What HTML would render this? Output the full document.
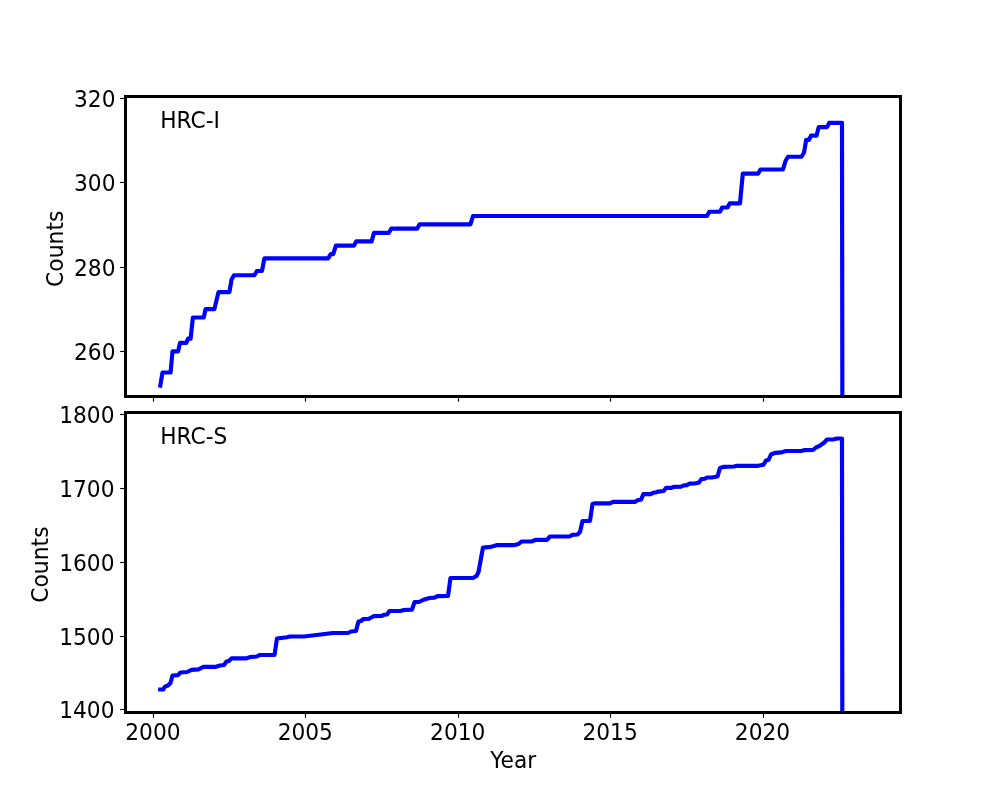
<!DOCTYPE html>
<html lang="en"><head><meta charset="utf-8"><title>HRC Counts</title>
<style>html,body{margin:0;padding:0;background:#fff;overflow:hidden}svg{display:block}text{font-family:"DejaVu Sans","Liberation Sans",sans-serif;font-size:22.22px;fill:#000}</style></head><body>
<svg width="1000" height="800" viewBox="0 0 1000 800">
<rect width="1000" height="800" fill="#fff"/>
<defs><clipPath id="c1"><rect x="125.5" y="96.5" width="775.0" height="300.0"/></clipPath><clipPath id="c2"><rect x="125.5" y="412.5" width="775.0" height="300.0"/></clipPath></defs>
<polyline clip-path="url(#c1)" points="160.3,385.49 162.5,372.5 170.6,372.5 172.5,351.35 178.1,351.35 180,342.89 186.25,342.89 188.1,338.66 190.6,338.66 192.9,317.51 203.75,317.51 205.6,309.05 214.4,309.05 218.5,292.13 229.4,292.13 231.6,279.44 234,275.21 254.4,275.21 256.9,270.98 262,270.98 264.4,258.29 328.1,258.29 330.8,254.06 333.2,254.06 335.9,245.6 354,245.6 356.2,241.37 371.6,241.37 374,232.91 388.8,232.91 391.2,228.68 417.1,228.68 419.5,224.45 470.4,224.45 473.1,215.99 707,215.99 709.3,211.76 720,211.76 722.2,207.53 727.5,207.53 729.8,203.3 740,203.3 742.8,173.69 758,173.69 760.5,169.46 783,169.46 785.5,161 788,156.77 801.5,156.77 804,152.54 806.2,139.85 809,139.85 811,135.62 816.5,135.62 818.7,127.16 827,127.16 829.2,122.93 842,122.93 842.35,402" fill="none" stroke="#0000ff" stroke-width="4.17" stroke-linejoin="round" stroke-linecap="square"/>
<polyline clip-path="url(#c2)" points="160.2,689.5 163.1,689.5 165,686.6 168,685.5 170.5,683 172.5,675.5 178,675.2 180.5,672.5 187,672 191.5,669.8 198.5,669.3 203.5,666.8 216,666.8 220,665.5 224,665 226.5,661.5 229,661 231.5,658.3 246.5,658.3 250.5,657 257,656.5 259.5,655 274.5,655 277,638.5 287,637.2 290,636.5 304,636.5 333,633 348,633 351,631.5 356,631 358.5,621.5 361,621 363.5,619 368.5,619 373.5,616.2 381.5,616 384,614.8 387,614.5 389.5,611 401,610.8 404,610 412,609.7 414.5,602.2 419,602 423,600 426,599 429.5,598 434.5,597.7 437.5,596.2 448,596 450.5,578 473.5,577.8 476.5,576 478.5,572 483,547.5 489,547.2 494,546 496.5,545.2 513.5,545.2 518.5,544 521.5,541.5 531.5,541.5 536,539.8 547,539.8 550,536.5 569.5,536.5 572.5,534.8 577.5,534.5 580,532 582.5,521 590,520.8 592.5,504 595,503.3 610,503.3 613,501.8 635.2,501.9 637.8,500.1 641,499.75 643.4,494.2 650.75,494.2 653.2,492.75 656,492.4 658.1,491.55 663.7,491 666.1,487.85 671.4,487.85 673.5,486.8 681.2,486.6 684,485.4 686.8,485.25 689.25,483.65 694.5,483.5 698.7,482.8 701.5,479.1 704.5,478.8 707,477.5 712,477.5 717.5,476.5 720,468 724,466.8 734,466.5 737,465.8 758,465.8 763.5,464.8 766,460.5 768.5,460 771,454.5 775.5,452.8 781,452.4 786,451 801,451 804,450.2 813,450 816,447.5 819,446.2 824,442.8 827,439.5 834,439.3 837,438.5 842,438.5 842.3,718" fill="none" stroke="#0000ff" stroke-width="4.17" stroke-linejoin="round" stroke-linecap="square"/>
<g stroke="#000" stroke-width="1.11" fill="none">
<line x1="153.5" y1="396.5" x2="153.5" y2="401.7"/>
<line x1="153.5" y1="712.5" x2="153.5" y2="717.7"/>
<line x1="305.5" y1="396.5" x2="305.5" y2="401.7"/>
<line x1="305.5" y1="712.5" x2="305.5" y2="717.7"/>
<line x1="458.5" y1="396.5" x2="458.5" y2="401.7"/>
<line x1="458.5" y1="712.5" x2="458.5" y2="717.7"/>
<line x1="610.5" y1="396.5" x2="610.5" y2="401.7"/>
<line x1="610.5" y1="712.5" x2="610.5" y2="717.7"/>
<line x1="763.5" y1="396.5" x2="763.5" y2="401.7"/>
<line x1="763.5" y1="712.5" x2="763.5" y2="717.7"/>
<line x1="125.5" y1="98.5" x2="120.1" y2="98.5"/>
<line x1="125.5" y1="182.5" x2="120.1" y2="182.5"/>
<line x1="125.5" y1="267.5" x2="120.1" y2="267.5"/>
<line x1="125.5" y1="351.5" x2="120.1" y2="351.5"/>
<line x1="125.5" y1="414.5" x2="120.1" y2="414.5"/>
<line x1="125.5" y1="488.5" x2="120.1" y2="488.5"/>
<line x1="125.5" y1="562.5" x2="120.1" y2="562.5"/>
<line x1="125.5" y1="636.5" x2="120.1" y2="636.5"/>
<line x1="125.5" y1="709.5" x2="120.1" y2="709.5"/>
</g>
<rect x="125.5" y="96.5" width="775.0" height="300.0" fill="none" stroke="#000" stroke-width="3"/>
<rect x="125.5" y="412.5" width="775.0" height="300.0" fill="none" stroke="#000" stroke-width="3"/>
<text transform="translate(152.9,739.8) scale(0.978,1)" text-anchor="middle">2000</text>
<text transform="translate(305.3,739.8) scale(0.978,1)" text-anchor="middle">2005</text>
<text transform="translate(457.7,739.8) scale(0.978,1)" text-anchor="middle">2010</text>
<text transform="translate(610.1,739.8) scale(0.978,1)" text-anchor="middle">2015</text>
<text transform="translate(762.5,739.8) scale(0.978,1)" text-anchor="middle">2020</text>
<text transform="translate(115.5,106.8) scale(0.978,1)" text-anchor="end">320</text>
<text transform="translate(115.5,190.8) scale(0.978,1)" text-anchor="end">300</text>
<text transform="translate(115.5,275.8) scale(0.978,1)" text-anchor="end">280</text>
<text transform="translate(115.5,359.8) scale(0.978,1)" text-anchor="end">260</text>
<text transform="translate(114.5,422.8) scale(0.978,1)" text-anchor="end">1800</text>
<text transform="translate(114.5,496.8) scale(0.978,1)" text-anchor="end">1700</text>
<text transform="translate(114.5,570.8) scale(0.978,1)" text-anchor="end">1600</text>
<text transform="translate(114.5,644.8) scale(0.978,1)" text-anchor="end">1500</text>
<text transform="translate(114.5,717.8) scale(0.978,1)" text-anchor="end">1400</text>
<text transform="translate(160.2,127.8) scale(0.978,1)" text-anchor="start">HRC-I</text>
<text transform="translate(160.2,443.8) scale(0.978,1)" text-anchor="start">HRC-S</text>
<text transform="translate(513.2,767.8) scale(0.978,1)" text-anchor="middle">Year</text>
<text transform="translate(63.1,248.8) rotate(-90) scale(0.986,1)" text-anchor="middle">Counts</text>
<text transform="translate(48.1,564.6) rotate(-90) scale(0.986,1)" text-anchor="middle">Counts</text>
</svg></body></html>
